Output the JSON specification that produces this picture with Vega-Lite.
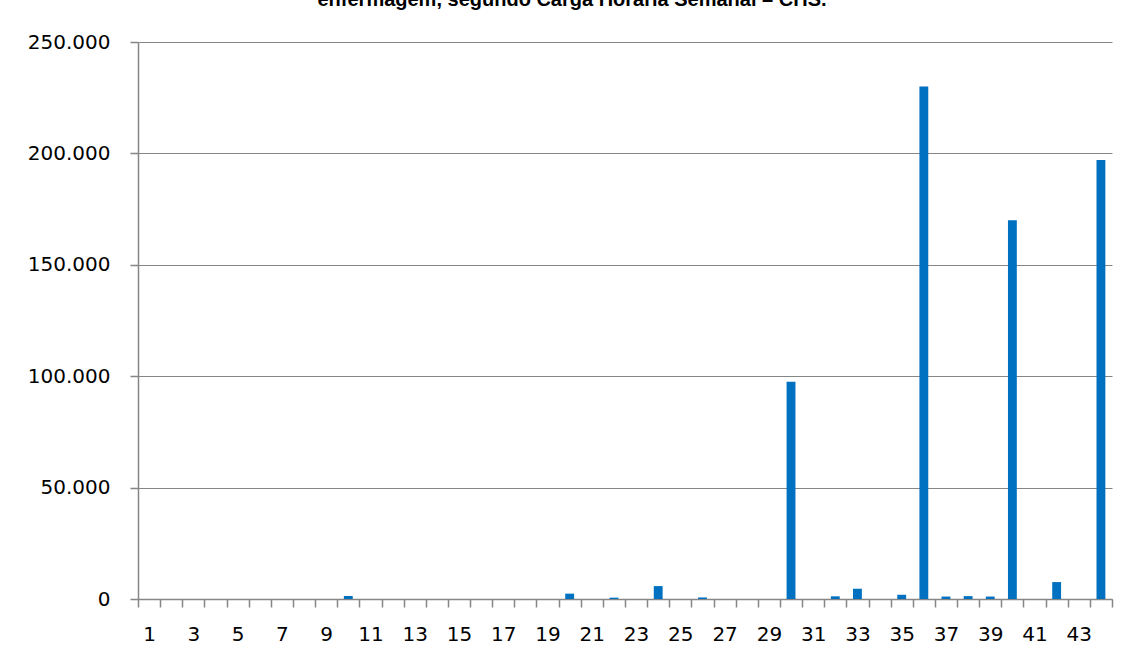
{
  "$schema": "https://vega.github.io/schema/vega-lite/v6.json",
  "autosize": {"type": "none"},
  "padding": {"left": 138, "top": 42, "right": 17, "bottom": 57},
  "width": 974,
  "height": 557,
  "background": "white",
  "title": {
    "text": "enfermagem, segundo Carga Horária Semanal – CHS.",
    "anchor": "middle",
    "frame": "group",
    "dx": -53,
    "offset": 22,
    "font": "Liberation Sans",
    "fontSize": 20,
    "fontWeight": "bold",
    "color": "#000000"
  },
  "data": {
    "values": [
      {"chs": 1, "profissionais": 0},
      {"chs": 2, "profissionais": 0},
      {"chs": 3, "profissionais": 0},
      {"chs": 4, "profissionais": 0},
      {"chs": 5, "profissionais": 0},
      {"chs": 6, "profissionais": 0},
      {"chs": 7, "profissionais": 0},
      {"chs": 8, "profissionais": 0},
      {"chs": 9, "profissionais": 0},
      {"chs": 10, "profissionais": 1400},
      {"chs": 11, "profissionais": 0},
      {"chs": 12, "profissionais": 0},
      {"chs": 13, "profissionais": 0},
      {"chs": 14, "profissionais": 0},
      {"chs": 15, "profissionais": 0},
      {"chs": 16, "profissionais": 0},
      {"chs": 17, "profissionais": 0},
      {"chs": 18, "profissionais": 0},
      {"chs": 19, "profissionais": 0},
      {"chs": 20, "profissionais": 2400},
      {"chs": 21, "profissionais": 0},
      {"chs": 22, "profissionais": 600},
      {"chs": 23, "profissionais": 0},
      {"chs": 24, "profissionais": 5800},
      {"chs": 25, "profissionais": 0},
      {"chs": 26, "profissionais": 700},
      {"chs": 27, "profissionais": 0},
      {"chs": 28, "profissionais": 0},
      {"chs": 29, "profissionais": 0},
      {"chs": 30, "profissionais": 97500},
      {"chs": 31, "profissionais": 0},
      {"chs": 32, "profissionais": 1200},
      {"chs": 33, "profissionais": 4600},
      {"chs": 34, "profissionais": 0},
      {"chs": 35, "profissionais": 1900},
      {"chs": 36, "profissionais": 230000},
      {"chs": 37, "profissionais": 1100},
      {"chs": 38, "profissionais": 1300},
      {"chs": 39, "profissionais": 1100},
      {"chs": 40, "profissionais": 170000},
      {"chs": 41, "profissionais": 0},
      {"chs": 42, "profissionais": 7600},
      {"chs": 43, "profissionais": 0},
      {"chs": 44, "profissionais": 197000}
    ]
  },
  "mark": {"type": "bar", "color": "#0070C0", "width": {"band": 0.4}},
  "encoding": {
    "x": {
      "field": "chs",
      "type": "ordinal",
      "scale": {"paddingInner": 0, "paddingOuter": 0},
      "axis": {
        "title": null,
        "labelAngle": 0,
        "tickBand": "extent",
        "tickSize": 8,
        "tickColor": "#868686",
        "tickWidth": 1.5,
        "domainColor": "#868686",
        "domainWidth": 1.5,
        "labelPadding": 17,
        "labelOverlap": false,
        "labelFont": "DejaVu Sans",
        "labelFontSize": 20,
        "labelColor": "#000000",
        "labelExpr": "datum.value % 2 == 1 ? datum.label : ''",
        "grid": false
      }
    },
    "y": {
      "field": "profissionais",
      "type": "quantitative",
      "scale": {"domain": [0, 250000], "nice": false},
      "axis": {
        "title": null,
        "values": [0, 50000, 100000, 150000, 200000, 250000],
        "tickSize": 8,
        "tickColor": "#868686",
        "tickWidth": 1.5,
        "domainColor": "#868686",
        "domainWidth": 1.5,
        "gridColor": "#868686",
        "gridWidth": 1,
        "labelPadding": 20,
        "labelFont": "DejaVu Sans",
        "labelFontSize": 20,
        "labelColor": "#000000",
        "labelExpr": "replace(format(datum.value, ','), ',', '.')"
      }
    }
  },
  "config": {
    "view": {"stroke": null}
  }
}
